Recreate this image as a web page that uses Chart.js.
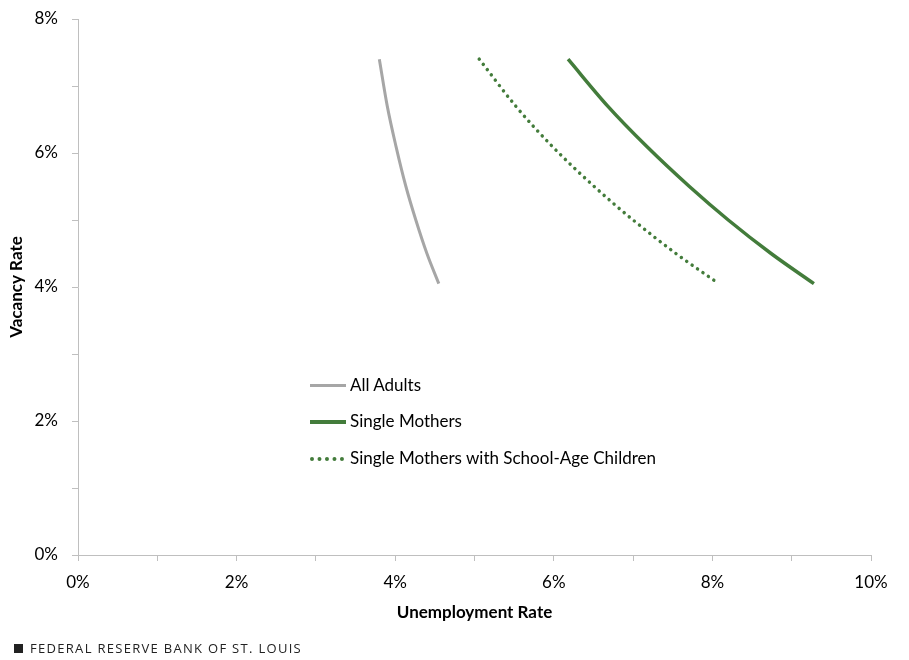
<!DOCTYPE html>
<html><head><meta charset="utf-8">
<script src="https://cdn.jsdelivr.net/npm/chart.js@4"></script>
<style>
html,body{margin:0;padding:0;background:#fff;}
#wrap{position:relative;width:909px;height:660px;font-family:Lato,"Open Sans",sans-serif;}
canvas{position:absolute;left:0;top:0;}
.leg{position:absolute;left:310px;font-size:17px;color:#000;height:20px;line-height:20px;}
.leg span.s{display:inline-block;width:36px;height:0;vertical-align:middle;margin-right:4px;position:relative;top:-1px;}
#foot{position:absolute;left:14px;top:639px;font-size:13px;letter-spacing:1.3px;color:#222;font-family:"Open Sans",sans-serif;}
#foot b{display:inline-block;width:9px;height:9px;background:#222;margin-right:7px;vertical-align:0px;}
</style></head><body>
<div id="wrap">
<canvas id="c" width="909" height="660"></canvas>
<div class="leg" style="top:375px"><span class="s" style="border-top:3px solid #a6a6a6"></span>All Adults</div>
<div class="leg" style="top:411px"><span class="s" style="border-top:4px solid #437c3b"></span>Single Mothers</div>
<div class="leg" style="top:448px"><span class="s" style="border-top:4px dotted #437c3b;width:34px;margin-right:6px"></span>Single Mothers with School-Age Children</div>
<div id="foot"><b></b>FEDERAL RESERVE BANK OF ST. LOUIS</div>
</div>
<script>
const vacancy = [4.05, 4.5, 5.0, 5.5, 6.1, 6.7, 7.4];
const allAdults = [4.55, 4.40, 4.26, 4.135, 4.01, 3.90, 3.80];
const singleMothers = [9.28, 8.74, 8.20, 7.71, 7.17, 6.68, 6.18];
const singleMothersSchool = [8.08, 7.54, 7.00, 6.51, 5.98, 5.52, 5.06];
const xTicks = ['0%', '2%', '4%', '6%', '8%', '10%'];
const yTicks = ['0%', '2%', '4%', '6%', '8%'];

function pts(xs){ return xs.map((x,i)=>({x:x,y:vacancy[i]})).sort((a,b)=>a.x-b.x); }

new Chart(document.getElementById('c'), {
  type: 'scatter',
  data: { datasets: [
    {label:'All Adults', data: pts(allAdults), showLine:true, borderColor:'#a6a6a6', borderWidth:3, pointRadius:0, cubicInterpolationMode:'monotone'},
    {label:'Single Mothers', data: pts(singleMothers), showLine:true, borderColor:'#437c3b', borderWidth:3.5, pointRadius:0, cubicInterpolationMode:'monotone'},
    {label:'Single Mothers with School-Age Children', data: pts(singleMothersSchool), showLine:true, borderColor:'#437c3b', borderWidth:3.5, pointRadius:0, cubicInterpolationMode:'monotone', borderDash:[0.01,6.6], borderCapStyle:'round'}
  ]},
  options: {
    responsive:false, animation:false,
    layout:{padding:{left:0, top:19, right:38, bottom:37}},
    plugins:{legend:{display:false}, tooltip:{enabled:false}},
    scales:{
      x:{type:'linear', min:0, max:10,
        ticks:{stepSize:1, autoSkip:false, maxRotation:0, padding:11, color:'#000', font:{family:'Lato', size:17},
          callback:(v)=> (v%2===0 ? xTicks[v/2] : '')},
        grid:{drawOnChartArea:false, drawTicks:true, tickLength:6, color:'#bfbfbf'},
        border:{color:'#bfbfbf', width:1},
        title:{display:true, text:'Unemployment Rate', color:'#000', font:{family:'Lato', size:17, weight:'bold'}, padding:{top:8,bottom:0}},
        afterFit:(s)=>{s.height=68; s.paddingLeft=0; s.paddingRight=0;}
      },
      y:{type:'linear', min:0, max:8,
        ticks:{stepSize:1, autoSkip:false, padding:14, color:'#000', font:{family:'Lato', size:17},
          callback:(v)=> (v%2===0 ? yTicks[v/2] : '')},
        grid:{drawOnChartArea:false, drawTicks:true, tickLength:6, color:'#bfbfbf'},
        border:{color:'#bfbfbf', width:1},
        title:{display:true, text:'Vacancy Rate', color:'#000', font:{family:'Lato', size:17, weight:'bold'}, padding:{top:6,bottom:0}},
        afterFit:(s)=>{s.width=78; s.paddingTop=0; s.paddingBottom=0;}
      }
    }
  }
});
</script>
</body></html>
